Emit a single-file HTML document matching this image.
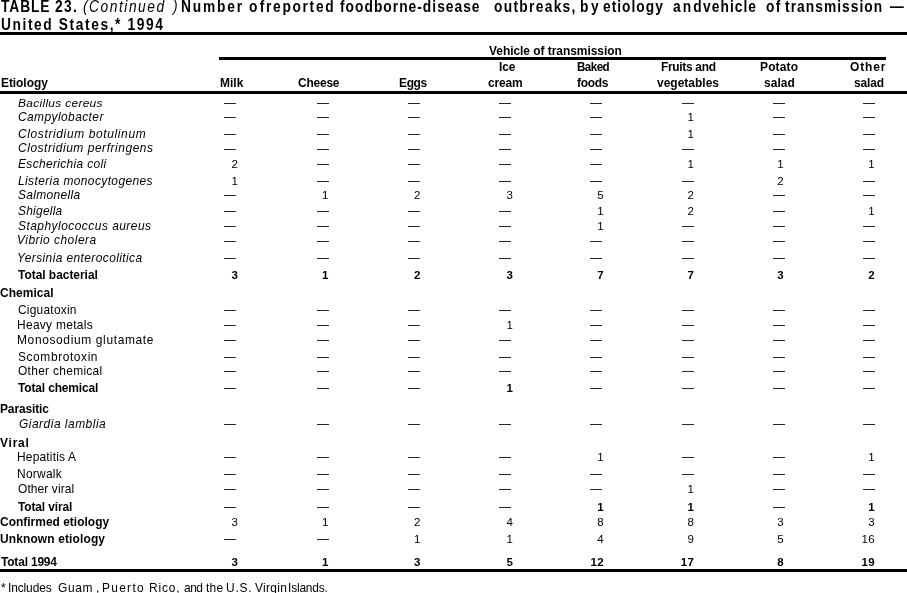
<!DOCTYPE html>
<html lang="en"><head><meta charset="utf-8"><title>TABLE 23. (Continued) Foodborne-disease outbreaks, 1994</title>
<style>
html,body{margin:0;padding:0;background:#fff}
#t{position:relative;width:907px;height:593px;overflow:hidden;background:#fff;color:#000;font-family:"Liberation Sans", sans-serif}
#t span{position:absolute;white-space:nowrap;line-height:20px;height:20px;transform-origin:0 50%}
#t .r{position:absolute;background:#000}
</style></head><body><div id="t">
<div class="r" style="left:0px;top:32px;width:907px;height:3px"></div><div class="r" style="left:219px;top:57px;width:666.7px;height:3px"></div><div class="r" style="left:0px;top:91px;width:907px;height:3px"></div><div class="r" style="left:0px;top:569px;width:907px;height:3px"></div>
<span style="left:0.50px;top:-3.00px;font-size:16px;font-weight:bold;letter-spacing:1.069px;transform:scaleX(0.8600)">TABLE</span>
<span style="left:54.70px;top:-3.00px;font-size:16px;font-weight:bold;letter-spacing:1.543px;transform:scaleX(0.8600)">23.</span>
<span style="left:83.20px;top:-3.00px;font-size:16px;font-style:italic;transform:scaleX(0.8600)">(</span>
<span style="left:89.30px;top:-3.00px;font-size:16px;font-style:italic;letter-spacing:1.805px;transform:scaleX(0.8600)">Continued</span>
<span style="left:173.22px;top:-3.00px;font-size:16px;font-style:italic;transform:scaleX(0.8600)">)</span>
<span style="left:180.54px;top:-3.00px;font-size:16px;font-weight:bold;letter-spacing:2.131px;transform:scaleX(0.8600)">Number</span>
<span style="left:249.20px;top:-3.00px;font-size:16px;font-weight:bold;letter-spacing:2.599px;transform:scaleX(0.8600)">of</span>
<span style="left:265.54px;top:-3.00px;font-size:16px;font-weight:bold;letter-spacing:1.962px;transform:scaleX(0.8600)">reported</span>
<span style="left:340.40px;top:-3.00px;font-size:16px;font-weight:bold;letter-spacing:1.193px;transform:scaleX(0.8600)">foodborne-disease</span>
<span style="left:494.00px;top:-3.00px;font-size:16px;font-weight:bold;letter-spacing:1.524px;transform:scaleX(0.8600)">outbreaks,</span>
<span style="left:579.84px;top:-3.00px;font-size:16px;font-weight:bold;letter-spacing:2.924px;transform:scaleX(0.8600)">by</span>
<span style="left:603.40px;top:-3.00px;font-size:16px;font-weight:bold;letter-spacing:1.173px;transform:scaleX(0.8600)">etiology</span>
<span style="left:672.80px;top:-3.00px;font-size:16px;font-weight:bold;letter-spacing:2.501px;transform:scaleX(0.8600)">and</span>
<span style="left:703.30px;top:-3.00px;font-size:16px;font-weight:bold;letter-spacing:1.231px;transform:scaleX(0.8600)">vehicle</span>
<span style="left:766.00px;top:-3.00px;font-size:16px;font-weight:bold;letter-spacing:1.668px;transform:scaleX(0.8600)">of</span>
<span style="left:784.50px;top:-3.00px;font-size:16px;font-weight:bold;letter-spacing:1.218px;transform:scaleX(0.8600)">transmission</span>
<span style="left:890.00px;top:-3.00px;font-size:16px;font-weight:bold;transform:scaleX(0.8600)">—</span>
<span style="left:0.50px;top:15.00px;font-size:16px;font-weight:bold;letter-spacing:1.853px;transform:scaleX(0.8600)">United States,* 1994</span>
<span style="left:489.00px;top:41.00px;font-size:13px;font-weight:bold;letter-spacing:-0.042px;transform:scaleX(0.9200)">Vehicle of transmission</span>
<span style="left:498.90px;top:57.00px;font-size:13px;font-weight:bold;letter-spacing:-0.062px;transform:scaleX(0.9200)">Ice</span>
<span style="left:576.80px;top:57.00px;font-size:13px;font-weight:bold;letter-spacing:-0.600px;transform:scaleX(0.8915)">Baked</span>
<span style="left:660.70px;top:57.00px;font-size:13px;font-weight:bold;letter-spacing:-0.346px;transform:scaleX(0.9200)">Fruits and</span>
<span style="left:759.70px;top:57.00px;font-size:13px;font-weight:bold;letter-spacing:0.183px;transform:scaleX(0.9200)">Potato</span>
<span style="left:850.40px;top:57.00px;font-size:13px;font-weight:bold;letter-spacing:0.939px;transform:scaleX(0.9200)">Other</span>
<span style="left:0.50px;top:73.00px;font-size:13px;font-weight:bold;letter-spacing:-0.059px;transform:scaleX(0.9200)">Etiology</span>
<span style="left:220.00px;top:73.00px;font-size:13px;font-weight:bold;letter-spacing:0.011px;transform:scaleX(0.9200)">Milk</span>
<span style="left:298.00px;top:73.00px;font-size:13px;font-weight:bold;letter-spacing:-0.226px;transform:scaleX(0.9200)">Cheese</span>
<span style="left:399.00px;top:73.00px;font-size:13px;font-weight:bold;letter-spacing:-0.373px;transform:scaleX(0.9200)">Eggs</span>
<span style="left:488.00px;top:73.00px;font-size:13px;font-weight:bold;letter-spacing:-0.198px;transform:scaleX(0.9200)">cream</span>
<span style="left:577.40px;top:73.00px;font-size:13px;font-weight:bold;letter-spacing:-0.283px;transform:scaleX(0.9200)">foods</span>
<span style="left:656.50px;top:73.00px;font-size:13px;font-weight:bold;letter-spacing:0.022px;transform:scaleX(0.9200)">vegetables</span>
<span style="left:763.70px;top:73.00px;font-size:13px;font-weight:bold;letter-spacing:0.044px;transform:scaleX(0.9200)">salad</span>
<span style="left:854.00px;top:73.00px;font-size:13px;font-weight:bold;letter-spacing:-0.173px;transform:scaleX(0.9200)">salad</span>
<span style="left:17.50px;top:93.00px;font-size:13px;font-style:italic;letter-spacing:0.319px;transform:scale(0.9200,0.840);transform-origin:0 14px">Bacillus cereus</span>
<span style="left:224.20px;top:93.00px;font-size:13px;transform:scaleX(0.9077)">—</span>
<span style="left:317.00px;top:93.00px;font-size:13px;transform:scaleX(0.9231)">—</span>
<span style="left:408.40px;top:93.00px;font-size:13px;transform:scaleX(0.9077)">—</span>
<span style="left:499.00px;top:93.00px;font-size:13px;transform:scaleX(0.9231)">—</span>
<span style="left:590.00px;top:93.00px;font-size:13px;transform:scaleX(0.9231)">—</span>
<span style="left:682.00px;top:93.00px;font-size:13px;transform:scaleX(0.9231)">—</span>
<span style="left:773.00px;top:93.00px;font-size:13px;transform:scaleX(0.9231)">—</span>
<span style="left:863.00px;top:93.00px;font-size:13px;transform:scaleX(0.9231)">—</span>
<span style="left:18.00px;top:107.00px;font-size:13px;font-style:italic;letter-spacing:0.448px;transform:scaleX(0.9200)">Campylobacter</span>
<span style="left:224.20px;top:107.00px;font-size:13px;transform:scaleX(0.9077)">—</span>
<span style="left:317.00px;top:107.00px;font-size:13px;transform:scaleX(0.9231)">—</span>
<span style="left:408.40px;top:107.00px;font-size:13px;transform:scaleX(0.9077)">—</span>
<span style="left:499.00px;top:107.00px;font-size:13px;transform:scaleX(0.9231)">—</span>
<span style="left:590.00px;top:107.00px;font-size:13px;transform:scaleX(0.9231)">—</span>
<span style="left:687.60px;top:107.00px;font-size:11.5px">1</span>
<span style="left:773.00px;top:107.00px;font-size:13px;transform:scaleX(0.9231)">—</span>
<span style="left:863.00px;top:107.00px;font-size:13px;transform:scaleX(0.9231)">—</span>
<span style="left:18.00px;top:124.00px;font-size:13px;font-style:italic;letter-spacing:0.688px;transform:scaleX(0.9200)">Clostridium botulinum</span>
<span style="left:224.20px;top:124.00px;font-size:13px;transform:scaleX(0.9077)">—</span>
<span style="left:317.00px;top:124.00px;font-size:13px;transform:scaleX(0.9231)">—</span>
<span style="left:408.40px;top:124.00px;font-size:13px;transform:scaleX(0.9077)">—</span>
<span style="left:499.00px;top:124.00px;font-size:13px;transform:scaleX(0.9231)">—</span>
<span style="left:590.00px;top:124.00px;font-size:13px;transform:scaleX(0.9231)">—</span>
<span style="left:687.60px;top:124.00px;font-size:11.5px">1</span>
<span style="left:773.00px;top:124.00px;font-size:13px;transform:scaleX(0.9231)">—</span>
<span style="left:863.00px;top:124.00px;font-size:13px;transform:scaleX(0.9231)">—</span>
<span style="left:17.50px;top:138.00px;font-size:13px;font-style:italic;letter-spacing:0.596px;transform:scaleX(0.9200)">Clostridium perfringens</span>
<span style="left:224.20px;top:139.00px;font-size:13px;transform:scaleX(0.9077)">—</span>
<span style="left:317.00px;top:139.00px;font-size:13px;transform:scaleX(0.9231)">—</span>
<span style="left:408.40px;top:139.00px;font-size:13px;transform:scaleX(0.9077)">—</span>
<span style="left:499.00px;top:139.00px;font-size:13px;transform:scaleX(0.9231)">—</span>
<span style="left:590.00px;top:139.00px;font-size:13px;transform:scaleX(0.9231)">—</span>
<span style="left:682.00px;top:139.00px;font-size:13px;transform:scaleX(0.9231)">—</span>
<span style="left:773.00px;top:139.00px;font-size:13px;transform:scaleX(0.9231)">—</span>
<span style="left:863.00px;top:139.00px;font-size:13px;transform:scaleX(0.9231)">—</span>
<span style="left:17.50px;top:154.00px;font-size:13px;font-style:italic;letter-spacing:0.369px;transform:scaleX(0.9200)">Escherichia coli</span>
<span style="left:231.60px;top:154.00px;font-size:11.5px">2</span>
<span style="left:317.00px;top:154.00px;font-size:13px;transform:scaleX(0.9231)">—</span>
<span style="left:408.40px;top:154.00px;font-size:13px;transform:scaleX(0.9077)">—</span>
<span style="left:499.00px;top:154.00px;font-size:13px;transform:scaleX(0.9231)">—</span>
<span style="left:590.00px;top:154.00px;font-size:13px;transform:scaleX(0.9231)">—</span>
<span style="left:687.60px;top:154.00px;font-size:11.5px">1</span>
<span style="left:777.30px;top:154.00px;font-size:11.5px">1</span>
<span style="left:868.30px;top:154.00px;font-size:11.5px">1</span>
<span style="left:18.00px;top:170.50px;font-size:13px;font-style:italic;letter-spacing:0.426px;transform:scaleX(0.9200)">Listeria monocytogenes</span>
<span style="left:231.60px;top:170.50px;font-size:11.5px">1</span>
<span style="left:317.00px;top:171.00px;font-size:13px;transform:scaleX(0.9231)">—</span>
<span style="left:408.40px;top:171.00px;font-size:13px;transform:scaleX(0.9077)">—</span>
<span style="left:499.00px;top:171.00px;font-size:13px;transform:scaleX(0.9231)">—</span>
<span style="left:590.00px;top:171.00px;font-size:13px;transform:scaleX(0.9231)">—</span>
<span style="left:682.00px;top:171.00px;font-size:13px;transform:scaleX(0.9231)">—</span>
<span style="left:777.30px;top:170.50px;font-size:11.5px">2</span>
<span style="left:863.00px;top:171.00px;font-size:13px;transform:scaleX(0.9231)">—</span>
<span style="left:18.00px;top:185.00px;font-size:13px;font-style:italic;letter-spacing:0.367px;transform:scaleX(0.9200)">Salmonella</span>
<span style="left:224.20px;top:185.00px;font-size:13px;transform:scaleX(0.9077)">—</span>
<span style="left:322.10px;top:185.00px;font-size:11.5px">1</span>
<span style="left:413.90px;top:185.00px;font-size:11.5px">2</span>
<span style="left:506.60px;top:185.00px;font-size:11.5px">3</span>
<span style="left:597.30px;top:185.00px;font-size:11.5px">5</span>
<span style="left:687.60px;top:185.00px;font-size:11.5px">2</span>
<span style="left:773.00px;top:185.00px;font-size:13px;transform:scaleX(0.9231)">—</span>
<span style="left:863.00px;top:185.00px;font-size:13px;transform:scaleX(0.9231)">—</span>
<span style="left:18.00px;top:201.00px;font-size:13px;font-style:italic;letter-spacing:0.257px;transform:scaleX(0.9200)">Shigella</span>
<span style="left:224.20px;top:201.00px;font-size:13px;transform:scaleX(0.9077)">—</span>
<span style="left:317.00px;top:201.00px;font-size:13px;transform:scaleX(0.9231)">—</span>
<span style="left:408.40px;top:201.00px;font-size:13px;transform:scaleX(0.9077)">—</span>
<span style="left:499.00px;top:201.00px;font-size:13px;transform:scaleX(0.9231)">—</span>
<span style="left:597.30px;top:201.00px;font-size:11.5px">1</span>
<span style="left:687.60px;top:201.00px;font-size:11.5px">2</span>
<span style="left:773.00px;top:201.00px;font-size:13px;transform:scaleX(0.9231)">—</span>
<span style="left:868.30px;top:201.00px;font-size:11.5px">1</span>
<span style="left:17.50px;top:215.50px;font-size:13px;font-style:italic;letter-spacing:0.510px;transform:scaleX(0.9200)">Staphylococcus aureus</span>
<span style="left:224.20px;top:216.00px;font-size:13px;transform:scaleX(0.9077)">—</span>
<span style="left:317.00px;top:216.00px;font-size:13px;transform:scaleX(0.9231)">—</span>
<span style="left:408.40px;top:216.00px;font-size:13px;transform:scaleX(0.9077)">—</span>
<span style="left:499.00px;top:216.00px;font-size:13px;transform:scaleX(0.9231)">—</span>
<span style="left:597.30px;top:215.50px;font-size:11.5px">1</span>
<span style="left:682.00px;top:216.00px;font-size:13px;transform:scaleX(0.9231)">—</span>
<span style="left:773.00px;top:216.00px;font-size:13px;transform:scaleX(0.9231)">—</span>
<span style="left:863.00px;top:216.00px;font-size:13px;transform:scaleX(0.9231)">—</span>
<span style="left:17.08px;top:229.50px;font-size:13px;font-style:italic;letter-spacing:0.520px;transform:scaleX(0.9200)">Vibrio cholera</span>
<span style="left:224.20px;top:231.00px;font-size:13px;transform:scaleX(0.9077)">—</span>
<span style="left:317.00px;top:231.00px;font-size:13px;transform:scaleX(0.9231)">—</span>
<span style="left:408.40px;top:231.00px;font-size:13px;transform:scaleX(0.9077)">—</span>
<span style="left:499.00px;top:231.00px;font-size:13px;transform:scaleX(0.9231)">—</span>
<span style="left:590.00px;top:231.00px;font-size:13px;transform:scaleX(0.9231)">—</span>
<span style="left:682.00px;top:231.00px;font-size:13px;transform:scaleX(0.9231)">—</span>
<span style="left:773.00px;top:231.00px;font-size:13px;transform:scaleX(0.9231)">—</span>
<span style="left:863.00px;top:231.00px;font-size:13px;transform:scaleX(0.9231)">—</span>
<span style="left:17.08px;top:247.50px;font-size:13px;font-style:italic;letter-spacing:0.434px;transform:scaleX(0.9200)">Yersinia enterocolitica</span>
<span style="left:224.20px;top:248.00px;font-size:13px;transform:scaleX(0.9077)">—</span>
<span style="left:317.00px;top:248.00px;font-size:13px;transform:scaleX(0.9231)">—</span>
<span style="left:408.40px;top:248.00px;font-size:13px;transform:scaleX(0.9077)">—</span>
<span style="left:499.00px;top:248.00px;font-size:13px;transform:scaleX(0.9231)">—</span>
<span style="left:590.00px;top:248.00px;font-size:13px;transform:scaleX(0.9231)">—</span>
<span style="left:682.00px;top:248.00px;font-size:13px;transform:scaleX(0.9231)">—</span>
<span style="left:773.00px;top:248.00px;font-size:13px;transform:scaleX(0.9231)">—</span>
<span style="left:863.00px;top:248.00px;font-size:13px;transform:scaleX(0.9231)">—</span>
<span style="left:18.20px;top:264.60px;font-size:13px;font-weight:bold;letter-spacing:-0.026px;transform:scaleX(0.9200)">Total bacterial</span>
<span style="left:231.60px;top:264.60px;font-size:11.5px;font-weight:bold">3</span>
<span style="left:322.10px;top:264.60px;font-size:11.5px;font-weight:bold">1</span>
<span style="left:413.90px;top:264.60px;font-size:11.5px;font-weight:bold">2</span>
<span style="left:506.60px;top:264.60px;font-size:11.5px;font-weight:bold">3</span>
<span style="left:597.30px;top:264.60px;font-size:11.5px;font-weight:bold">7</span>
<span style="left:687.60px;top:264.60px;font-size:11.5px;font-weight:bold">7</span>
<span style="left:777.30px;top:264.60px;font-size:11.5px;font-weight:bold">3</span>
<span style="left:868.30px;top:264.60px;font-size:11.5px;font-weight:bold">2</span>
<span style="left:0.00px;top:283.00px;font-size:13px;font-weight:bold;letter-spacing:0.060px;transform:scaleX(0.9200)">Chemical</span>
<span style="left:17.70px;top:300.00px;font-size:13px;letter-spacing:0.241px;transform:scaleX(0.9200)">Ciguatoxin</span>
<span style="left:224.20px;top:300.00px;font-size:13px;transform:scaleX(0.9077)">—</span>
<span style="left:317.00px;top:300.00px;font-size:13px;transform:scaleX(0.9231)">—</span>
<span style="left:408.40px;top:300.00px;font-size:13px;transform:scaleX(0.9077)">—</span>
<span style="left:499.00px;top:300.00px;font-size:13px;transform:scaleX(0.9231)">—</span>
<span style="left:590.00px;top:300.00px;font-size:13px;transform:scaleX(0.9231)">—</span>
<span style="left:682.00px;top:300.00px;font-size:13px;transform:scaleX(0.9231)">—</span>
<span style="left:773.00px;top:300.00px;font-size:13px;transform:scaleX(0.9231)">—</span>
<span style="left:863.00px;top:300.00px;font-size:13px;transform:scaleX(0.9231)">—</span>
<span style="left:16.78px;top:315.00px;font-size:13px;letter-spacing:0.327px;transform:scaleX(0.9200)">Heavy metals</span>
<span style="left:224.20px;top:315.00px;font-size:13px;transform:scaleX(0.9077)">—</span>
<span style="left:317.00px;top:315.00px;font-size:13px;transform:scaleX(0.9231)">—</span>
<span style="left:408.40px;top:315.00px;font-size:13px;transform:scaleX(0.9077)">—</span>
<span style="left:506.60px;top:315.00px;font-size:11.5px">1</span>
<span style="left:590.00px;top:315.00px;font-size:13px;transform:scaleX(0.9231)">—</span>
<span style="left:682.00px;top:315.00px;font-size:13px;transform:scaleX(0.9231)">—</span>
<span style="left:773.00px;top:315.00px;font-size:13px;transform:scaleX(0.9231)">—</span>
<span style="left:863.00px;top:315.00px;font-size:13px;transform:scaleX(0.9231)">—</span>
<span style="left:16.78px;top:330.00px;font-size:13px;letter-spacing:0.693px;transform:scaleX(0.9200)">Monosodium glutamate</span>
<span style="left:224.20px;top:330.00px;font-size:13px;transform:scaleX(0.9077)">—</span>
<span style="left:317.00px;top:330.00px;font-size:13px;transform:scaleX(0.9231)">—</span>
<span style="left:408.40px;top:330.00px;font-size:13px;transform:scaleX(0.9077)">—</span>
<span style="left:499.00px;top:330.00px;font-size:13px;transform:scaleX(0.9231)">—</span>
<span style="left:590.00px;top:330.00px;font-size:13px;transform:scaleX(0.9231)">—</span>
<span style="left:682.00px;top:330.00px;font-size:13px;transform:scaleX(0.9231)">—</span>
<span style="left:773.00px;top:330.00px;font-size:13px;transform:scaleX(0.9231)">—</span>
<span style="left:863.00px;top:330.00px;font-size:13px;transform:scaleX(0.9231)">—</span>
<span style="left:17.70px;top:347.00px;font-size:13px;letter-spacing:0.632px;transform:scaleX(0.9200)">Scombrotoxin</span>
<span style="left:224.20px;top:347.00px;font-size:13px;transform:scaleX(0.9077)">—</span>
<span style="left:317.00px;top:347.00px;font-size:13px;transform:scaleX(0.9231)">—</span>
<span style="left:408.40px;top:347.00px;font-size:13px;transform:scaleX(0.9077)">—</span>
<span style="left:499.00px;top:347.00px;font-size:13px;transform:scaleX(0.9231)">—</span>
<span style="left:590.00px;top:347.00px;font-size:13px;transform:scaleX(0.9231)">—</span>
<span style="left:682.00px;top:347.00px;font-size:13px;transform:scaleX(0.9231)">—</span>
<span style="left:773.00px;top:347.00px;font-size:13px;transform:scaleX(0.9231)">—</span>
<span style="left:863.00px;top:347.00px;font-size:13px;transform:scaleX(0.9231)">—</span>
<span style="left:17.70px;top:361.00px;font-size:13px;letter-spacing:0.315px;transform:scaleX(0.9200)">Other chemical</span>
<span style="left:224.20px;top:361.00px;font-size:13px;transform:scaleX(0.9077)">—</span>
<span style="left:317.00px;top:361.00px;font-size:13px;transform:scaleX(0.9231)">—</span>
<span style="left:408.40px;top:361.00px;font-size:13px;transform:scaleX(0.9077)">—</span>
<span style="left:499.00px;top:361.00px;font-size:13px;transform:scaleX(0.9231)">—</span>
<span style="left:590.00px;top:361.00px;font-size:13px;transform:scaleX(0.9231)">—</span>
<span style="left:682.00px;top:361.00px;font-size:13px;transform:scaleX(0.9231)">—</span>
<span style="left:773.00px;top:361.00px;font-size:13px;transform:scaleX(0.9231)">—</span>
<span style="left:863.00px;top:361.00px;font-size:13px;transform:scaleX(0.9231)">—</span>
<span style="left:18.20px;top:378.00px;font-size:13px;font-weight:bold;letter-spacing:-0.153px;transform:scaleX(0.9200)">Total chemical</span>
<span style="left:224.20px;top:378.00px;font-size:13px;transform:scaleX(0.9077)">—</span>
<span style="left:317.00px;top:378.00px;font-size:13px;transform:scaleX(0.9231)">—</span>
<span style="left:408.40px;top:378.00px;font-size:13px;transform:scaleX(0.9077)">—</span>
<span style="left:506.60px;top:378.00px;font-size:11.5px;font-weight:bold">1</span>
<span style="left:590.00px;top:378.00px;font-size:13px;transform:scaleX(0.9231)">—</span>
<span style="left:682.00px;top:378.00px;font-size:13px;transform:scaleX(0.9231)">—</span>
<span style="left:773.00px;top:378.00px;font-size:13px;transform:scaleX(0.9231)">—</span>
<span style="left:863.00px;top:378.00px;font-size:13px;transform:scaleX(0.9231)">—</span>
<span style="left:0.30px;top:399.00px;font-size:13px;font-weight:bold;letter-spacing:-0.130px;transform:scaleX(0.9200)">Parasitic</span>
<span style="left:18.50px;top:414.00px;font-size:13px;font-style:italic;letter-spacing:0.539px;transform:scaleX(0.9200)">Giardia lamblia</span>
<span style="left:224.20px;top:414.00px;font-size:13px;transform:scaleX(0.9077)">—</span>
<span style="left:317.00px;top:414.00px;font-size:13px;transform:scaleX(0.9231)">—</span>
<span style="left:408.40px;top:414.00px;font-size:13px;transform:scaleX(0.9077)">—</span>
<span style="left:499.00px;top:414.00px;font-size:13px;transform:scaleX(0.9231)">—</span>
<span style="left:590.00px;top:414.00px;font-size:13px;transform:scaleX(0.9231)">—</span>
<span style="left:682.00px;top:414.00px;font-size:13px;transform:scaleX(0.9231)">—</span>
<span style="left:773.00px;top:414.00px;font-size:13px;transform:scaleX(0.9231)">—</span>
<span style="left:863.00px;top:414.00px;font-size:13px;transform:scaleX(0.9231)">—</span>
<span style="left:-0.30px;top:433.00px;font-size:13px;font-weight:bold;letter-spacing:0.856px;transform:scaleX(0.9200)">Viral</span>
<span style="left:16.78px;top:447.00px;font-size:13px;letter-spacing:0.194px;transform:scaleX(0.9200)">Hepatitis A</span>
<span style="left:224.20px;top:447.00px;font-size:13px;transform:scaleX(0.9077)">—</span>
<span style="left:317.00px;top:447.00px;font-size:13px;transform:scaleX(0.9231)">—</span>
<span style="left:408.40px;top:447.00px;font-size:13px;transform:scaleX(0.9077)">—</span>
<span style="left:499.00px;top:447.00px;font-size:13px;transform:scaleX(0.9231)">—</span>
<span style="left:597.30px;top:447.00px;font-size:11.5px">1</span>
<span style="left:682.00px;top:447.00px;font-size:13px;transform:scaleX(0.9231)">—</span>
<span style="left:773.00px;top:447.00px;font-size:13px;transform:scaleX(0.9231)">—</span>
<span style="left:868.30px;top:447.00px;font-size:11.5px">1</span>
<span style="left:16.78px;top:464.00px;font-size:13px;letter-spacing:0.283px;transform:scaleX(0.9200)">Norwalk</span>
<span style="left:224.20px;top:464.00px;font-size:13px;transform:scaleX(0.9077)">—</span>
<span style="left:317.00px;top:464.00px;font-size:13px;transform:scaleX(0.9231)">—</span>
<span style="left:408.40px;top:464.00px;font-size:13px;transform:scaleX(0.9077)">—</span>
<span style="left:499.00px;top:464.00px;font-size:13px;transform:scaleX(0.9231)">—</span>
<span style="left:590.00px;top:464.00px;font-size:13px;transform:scaleX(0.9231)">—</span>
<span style="left:682.00px;top:464.00px;font-size:13px;transform:scaleX(0.9231)">—</span>
<span style="left:773.00px;top:464.00px;font-size:13px;transform:scaleX(0.9231)">—</span>
<span style="left:863.00px;top:464.00px;font-size:13px;transform:scaleX(0.9231)">—</span>
<span style="left:17.70px;top:479.00px;font-size:13px;letter-spacing:0.112px;transform:scaleX(0.9200)">Other viral</span>
<span style="left:224.20px;top:479.00px;font-size:13px;transform:scaleX(0.9077)">—</span>
<span style="left:317.00px;top:479.00px;font-size:13px;transform:scaleX(0.9231)">—</span>
<span style="left:408.40px;top:479.00px;font-size:13px;transform:scaleX(0.9077)">—</span>
<span style="left:499.00px;top:479.00px;font-size:13px;transform:scaleX(0.9231)">—</span>
<span style="left:590.00px;top:479.00px;font-size:13px;transform:scaleX(0.9231)">—</span>
<span style="left:687.60px;top:479.00px;font-size:11.5px">1</span>
<span style="left:773.00px;top:479.00px;font-size:13px;transform:scaleX(0.9231)">—</span>
<span style="left:863.00px;top:479.00px;font-size:13px;transform:scaleX(0.9231)">—</span>
<span style="left:18.20px;top:497.00px;font-size:13px;font-weight:bold;letter-spacing:-0.135px;transform:scaleX(0.9200)">Total viral</span>
<span style="left:224.20px;top:497.00px;font-size:13px;transform:scaleX(0.9077)">—</span>
<span style="left:317.00px;top:497.00px;font-size:13px;transform:scaleX(0.9231)">—</span>
<span style="left:408.40px;top:497.00px;font-size:13px;transform:scaleX(0.9077)">—</span>
<span style="left:499.00px;top:497.00px;font-size:13px;transform:scaleX(0.9231)">—</span>
<span style="left:597.30px;top:497.00px;font-size:11.5px;font-weight:bold">1</span>
<span style="left:687.60px;top:497.00px;font-size:11.5px;font-weight:bold">1</span>
<span style="left:773.00px;top:497.00px;font-size:13px;transform:scaleX(0.9231)">—</span>
<span style="left:868.30px;top:497.00px;font-size:11.5px;font-weight:bold">1</span>
<span style="left:0.20px;top:512.00px;font-size:13px;font-weight:bold;letter-spacing:0.008px;transform:scaleX(0.9200)">Confirmed etiology</span>
<span style="left:231.60px;top:512.00px;font-size:11.5px">3</span>
<span style="left:322.10px;top:512.00px;font-size:11.5px">1</span>
<span style="left:413.90px;top:512.00px;font-size:11.5px">2</span>
<span style="left:506.60px;top:512.00px;font-size:11.5px">4</span>
<span style="left:597.30px;top:512.00px;font-size:11.5px">8</span>
<span style="left:687.60px;top:512.00px;font-size:11.5px">8</span>
<span style="left:777.30px;top:512.00px;font-size:11.5px">3</span>
<span style="left:868.30px;top:512.00px;font-size:11.5px">3</span>
<span style="left:0.30px;top:529.00px;font-size:13px;font-weight:bold;letter-spacing:0.145px;transform:scaleX(0.9200)">Unknown etiology</span>
<span style="left:224.20px;top:529.00px;font-size:13px;transform:scaleX(0.9077)">—</span>
<span style="left:317.00px;top:529.00px;font-size:13px;transform:scaleX(0.9231)">—</span>
<span style="left:413.90px;top:529.00px;font-size:11.5px">1</span>
<span style="left:506.60px;top:529.00px;font-size:11.5px">1</span>
<span style="left:597.30px;top:529.00px;font-size:11.5px">4</span>
<span style="left:687.60px;top:529.00px;font-size:11.5px">9</span>
<span style="left:777.30px;top:529.00px;font-size:11.5px">5</span>
<span style="left:861.41px;top:529.00px;font-size:11.5px;letter-spacing:0.500px">16</span>
<span style="left:1.00px;top:552.00px;font-size:13px;font-weight:bold;letter-spacing:-0.195px;transform:scaleX(0.9200)">Total 1994</span>
<span style="left:231.60px;top:552.00px;font-size:11.5px;font-weight:bold">3</span>
<span style="left:322.10px;top:552.00px;font-size:11.5px;font-weight:bold">1</span>
<span style="left:413.90px;top:552.00px;font-size:11.5px;font-weight:bold">3</span>
<span style="left:506.60px;top:552.00px;font-size:11.5px;font-weight:bold">5</span>
<span style="left:590.41px;top:552.00px;font-size:11.5px;font-weight:bold;letter-spacing:0.500px">12</span>
<span style="left:680.71px;top:552.00px;font-size:11.5px;font-weight:bold;letter-spacing:0.500px">17</span>
<span style="left:777.30px;top:552.00px;font-size:11.5px;font-weight:bold">8</span>
<span style="left:861.41px;top:552.00px;font-size:11.5px;font-weight:bold;letter-spacing:0.500px">19</span>
<span style="left:1.00px;top:578.00px;font-size:13px;transform:scaleX(0.9200)">*</span>
<span style="left:8.38px;top:578.00px;font-size:13px;letter-spacing:-0.138px;transform:scaleX(0.9200)">Includes</span>
<span style="left:58.00px;top:578.00px;font-size:13px;letter-spacing:0.722px;transform:scaleX(0.9200)">Guam</span>
<span style="left:95.78px;top:578.00px;font-size:13px;transform:scaleX(0.9200)">,</span>
<span style="left:102.08px;top:578.00px;font-size:13px;letter-spacing:1.390px;transform:scaleX(0.9200)">Puerto</span>
<span style="left:149.08px;top:578.00px;font-size:13px;letter-spacing:0.879px;transform:scaleX(0.9200)">Rico,</span>
<span style="left:183.70px;top:578.00px;font-size:13px;letter-spacing:-0.567px;transform:scaleX(0.9200)">and</span>
<span style="left:206.00px;top:578.00px;font-size:13px;letter-spacing:0.318px;transform:scaleX(0.9200)">the</span>
<span style="left:225.88px;top:578.00px;font-size:13px;letter-spacing:0.878px;transform:scaleX(0.9200)">U.S.</span>
<span style="left:255.00px;top:578.00px;font-size:13px;letter-spacing:0.337px;transform:scaleX(0.9200)">Virgin</span>
<span style="left:287.68px;top:578.00px;font-size:13px;letter-spacing:-0.207px;transform:scaleX(0.9200)">Islands.</span>
</div></body></html>
